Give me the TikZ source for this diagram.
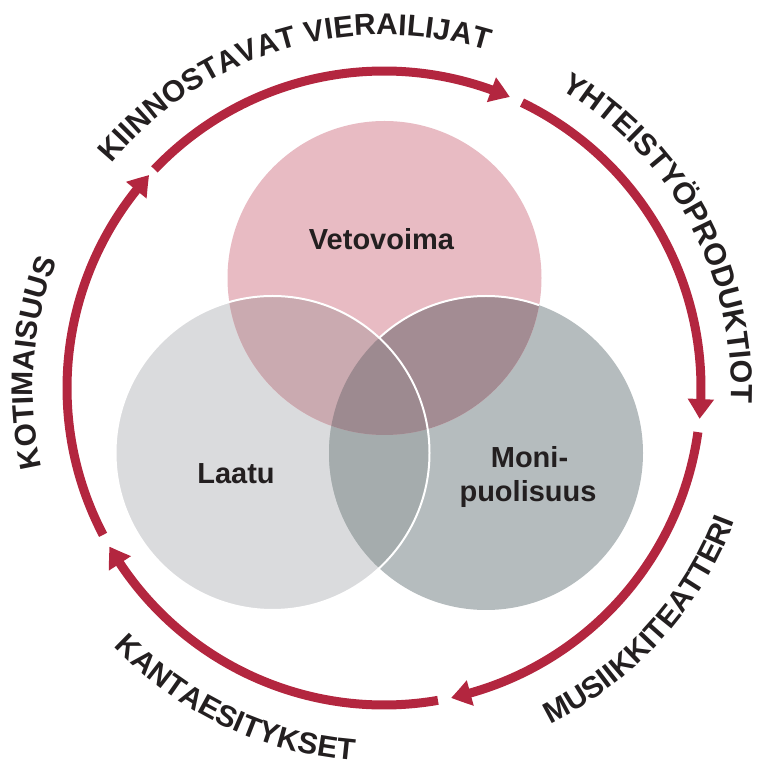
\documentclass[tikz,border=0pt]{standalone}
\usepackage{fontspec}
\setmainfont{Liberation Sans}
\usetikzlibrary{arrows.meta,bending,decorations.text}
\definecolor{ringred}{HTML}{B3263F}
\definecolor{txt}{HTML}{231F20}
\definecolor{cT}{HTML}{E8BBC3}
\definecolor{cL}{HTML}{DADBDD}
\definecolor{cR}{HTML}{B5BCBE}
\definecolor{cTL}{HTML}{CAAAB0}
\definecolor{cTR}{HTML}{A38C93}
\definecolor{cLR}{HTML}{A5ACAD}
\definecolor{cTLR}{HTML}{9D8A90}
\begin{document}
\begin{tikzpicture}[x=1pt,y=1pt,
  ringarc/.style={draw=ringred, line width=9pt, -{Triangle[length=20pt,width=25pt,bend]}},
  ringlabel/.style 2 args={decorate, decoration={text along path, text align=center, text color=txt,
     text={|\fontsize{#1}{36}\selectfont\bfseries|#2}}},
  vlabel/.style={font=\fontsize{29}{34}\selectfont\bfseries, text=txt, inner sep=0pt, anchor=base},
  outline/.style={draw=white, line width=2pt}
]
\useasboundingbox (0,0) rectangle (756,766);
\coordinate (O) at (384,378);
\coordinate (T) at (384.5,488);
\coordinate (L) at (272.5,313);
\coordinate (R) at (486,313);
\def\rr{157}
% Venn fills
\fill[cL] (L) circle[radius=\rr];
\fill[cR] (R) circle[radius=\rr];
\fill[cT] (T) circle[radius=\rr];
\begin{scope}
  \clip (R) circle[radius=\rr];
  \fill[cTR] (T) circle[radius=\rr];
\end{scope}
\begin{scope}
  \clip (T) circle[radius=\rr];
  \draw[outline] (R) circle[radius=\rr];
\end{scope}
\begin{scope}
  \clip (L) circle[radius=\rr];
  \fill[cLR] (R) circle[radius=\rr];
  \fill[cTL] (T) circle[radius=\rr];
\end{scope}
\begin{scope}
  \clip (L) circle[radius=\rr];
  \clip (R) circle[radius=\rr];
  \fill[cTLR] (T) circle[radius=\rr];
\end{scope}
\draw[outline] (L) circle[radius=\rr];
% Venn labels
\node[vlabel] (vet) at (381.5,516) {Vetovoima};
\node[vlabel] (laa) at (236,282) {Laatu};
\node[vlabel] (mon1) at (529.5,298) {Moni-};
\node[vlabel] (mon2) at (528,264) {puolisuus};
% ring arcs
\draw[ringarc] ([shift={(136.4:317)}]O) arc[start angle=136.4, end angle=66.6, radius=317];
\draw[ringarc] ([shift={(64.2:317)}]O) arc[start angle=64.2, end angle=-5.6, radius=317];
\draw[ringarc] ([shift={(-8.0:317)}]O) arc[start angle=-8.0, end angle=-77.8, radius=317];
\draw[ringarc] ([shift={(-80.2:317)}]O) arc[start angle=-80.2, end angle=-150.0, radius=317];
\draw[ringarc] ([shift={(-152.4:317)}]O) arc[start angle=-152.4, end angle=-222.2, radius=317];
% ring labels
\path[ringlabel={30}{KIINNOSTAVAT VIERAILIJAT}] ([shift={(166.7:353)}]O) arc[start angle=166.7, end angle=46.7, radius=353];
\path[ringlabel={30.5}{YHTEISTYÖPRODUKTIOT}] ([shift={(88.5:347)}]O) arc[start angle=88.5, end angle=-31.5, radius=347];
\path[ringlabel={30}{KOTIMAISUUS}] ([shift={(225.9:351)}]O) arc[start angle=225.9, end angle=125.9, radius=351];
\path[ringlabel={30}{MUSIIKKITEATTERI}] ([shift={(-92.2:375)}]O) arc[start angle=-92.2, end angle=7.8, radius=375];
\path[ringlabel={30}{KANTAESITYKSET}] ([shift={(194.6:374)}]O) arc[start angle=194.6, end angle=294.6, radius=374];
\end{tikzpicture}
\end{document}
